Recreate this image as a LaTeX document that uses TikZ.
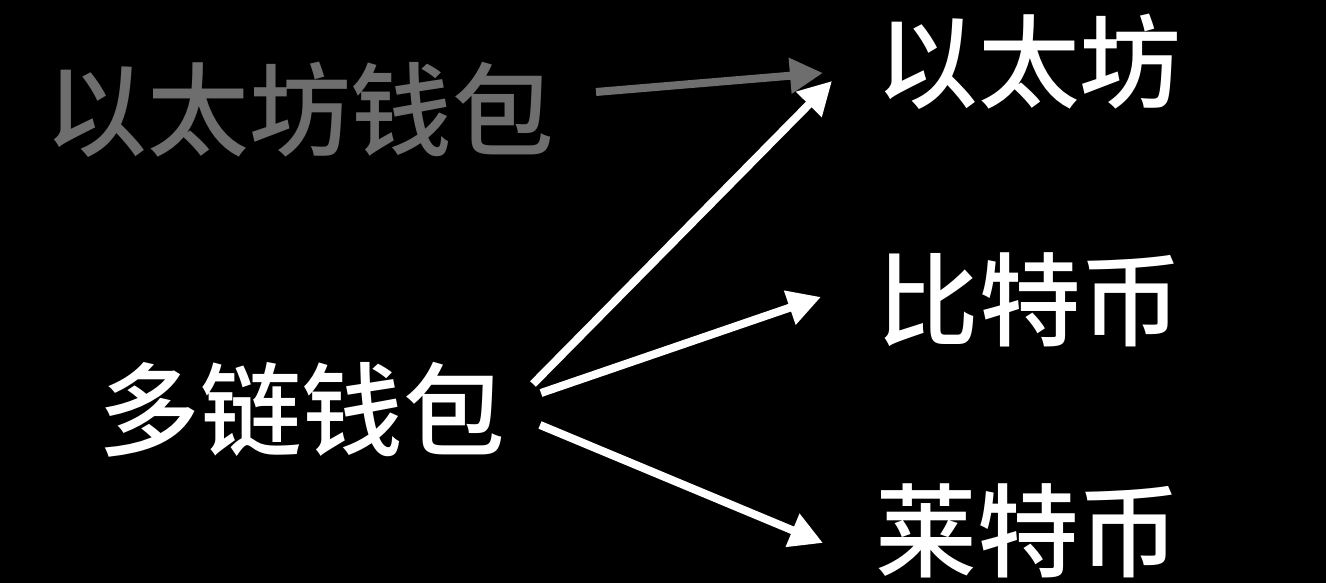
\documentclass[tikz,border=0pt]{standalone}
\usepackage{fontspec}
\setmainfont{Noto Sans CJK SC Medium}
\usetikzlibrary{arrows.meta,calc}
\definecolor{dimgray}{HTML}{6E6E6E}
\tikzset{
  lbl/.style={inner sep=0pt, outer sep=0pt, font=\fontsize{28.9pt}{30pt}\selectfont},
  conn/.style={line width=0.08cm, -{Triangle[length=0.33cm,width=0.34cm]}},
}
\begin{document}
\begin{tikzpicture}[x=0.01cm,y=-0.01cm]
\fill[black] (0,0) rectangle (1326,583);
\useasboundingbox (0,0) rectangle (1326,583);
\node[lbl, text=dimgray] (gwallet) at (300,110) {以太坊钱包};
\node[lbl, text=white] (eth) at (1029,62) {以太坊};
\node[lbl, text=white] (btc) at (1030,300) {比特币};
\node[lbl, text=white] (ltc) at (1028,531) {莱特币};
\node[lbl, text=white] (multi) at (302,410) {多链钱包};
\draw[conn, draw=dimgray, fill=dimgray] ($(gwallet.center)+(296,-18)$) -- ($(eth.center)+(-206,11)$);
\draw[conn, draw=white, fill=white] ($(multi.center)+(231,-26)$) -- ($(eth.center)+(-197,19)$);
\draw[conn, draw=white, fill=white] ($(multi.center)+(239,-17)$) -- ($(btc.center)+(-209,-3)$);
\draw[conn, draw=white, fill=white] ($(multi.center)+(238,15)$) -- ($(ltc.center)+(-205,12)$);
\end{tikzpicture}
\end{document}
